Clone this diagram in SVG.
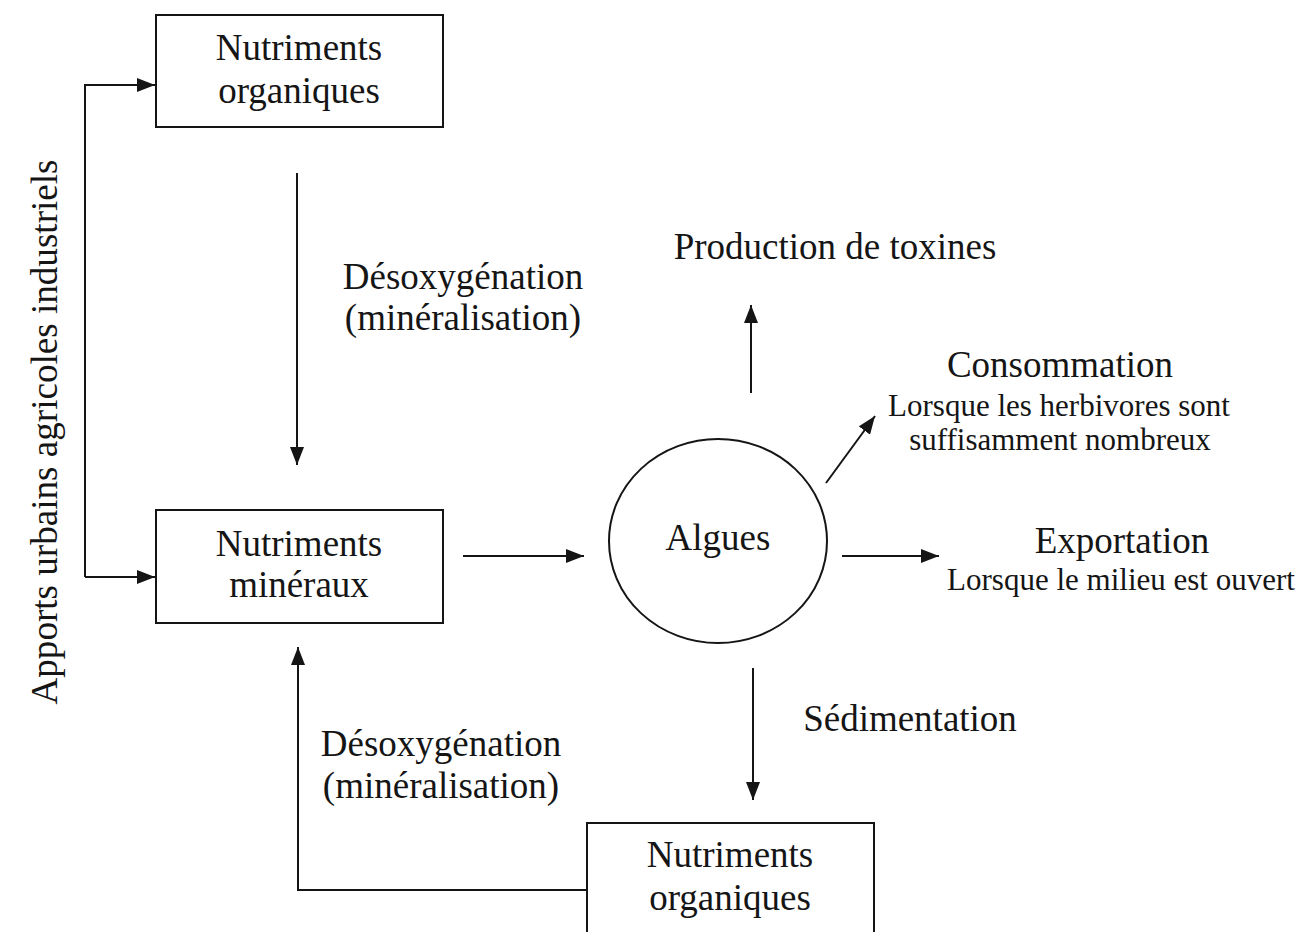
<svg xmlns="http://www.w3.org/2000/svg" width="1305" height="932" viewBox="0 0 1305 932">
<style>
  text { font-family: "Liberation Serif", "Times New Roman", serif; fill: #151515; }
  .t { font-size: 37px; text-anchor: middle; }
  .s { font-size: 31px; text-anchor: middle; }
  .box { fill: none; stroke: #151515; stroke-width: 2; }
  .c { fill: none; stroke: #151515; stroke-width: 2; marker-end: url(#ah); }
  .p { fill: none; stroke: #151515; stroke-width: 2; }
</style>
<defs>
  <marker id="ah" markerUnits="userSpaceOnUse" markerWidth="18" markerHeight="14" refX="18" refY="7" orient="auto">
    <path d="M0,0 L18,7 L0,14 z" fill="#151515"/>
  </marker>
</defs>
<rect width="1305" height="932" fill="#ffffff"/>

<g id="apports">
  <text font-size="38" text-anchor="middle" textLength="545" lengthAdjust="spacingAndGlyphs" transform="translate(57,432) rotate(-90)">Apports urbains agricoles industriels</text>
</g>

<g id="nutriments-organiques-haut">
  <rect class="box" x="156" y="15" width="287" height="112"/>
  <text class="t" x="299" y="60">Nutriments</text>
  <text class="t" x="299" y="103">organiques</text>
</g>

<g id="nutriments-mineraux">
  <rect class="box" x="156" y="510" width="287" height="113"/>
  <text class="t" x="299" y="556">Nutriments</text>
  <text class="t" x="299" y="597">minéraux</text>
</g>

<g id="algues">
  <ellipse class="box" cx="718" cy="541" rx="109" ry="102"/>
  <text class="t" x="718" y="550">Algues</text>
</g>

<g id="nutriments-organiques-bas">
  <rect class="box" x="587" y="823" width="287" height="120"/>
  <text class="t" x="730" y="867">Nutriments</text>
  <text class="t" x="730" y="910">organiques</text>
</g>

<g id="production-toxines">
  <text class="t" x="835" y="259">Production de toxines</text>
</g>

<g id="consommation">
  <text class="t" x="1060" y="377">Consommation</text>
  <text class="s" x="1059" y="416">Lorsque les herbivores sont</text>
  <text class="s" x="1060" y="450">suffisamment nombreux</text>
</g>

<g id="exportation">
  <text class="t" x="1122" y="553">Exportation</text>
  <text class="s" x="1121" y="590">Lorsque le milieu est ouvert</text>
</g>

<g id="labels">
  <text class="t" x="463" y="289">Désoxygénation</text>
  <text class="t" x="463" y="330">(minéralisation)</text>
  <text class="t" x="441" y="756">Désoxygénation</text>
  <text class="t" x="441" y="798">(minéralisation)</text>
  <text class="t" x="910" y="731">Sédimentation</text>
</g>

<g id="connectors">
  <path class="p" d="M155,85 H85 V577"/>
  <path class="c" d="M85,85 H155"/>
  <path class="c" d="M85,577 H155"/>
  <path class="c" d="M297,173 V465"/>
  <path class="c" d="M463,556 H584"/>
  <path class="c" d="M751,393 V305"/>
  <path class="c" d="M826,483 L875,416"/>
  <path class="c" d="M842,556 H939"/>
  <path class="c" d="M753,668 V800"/>
  <path class="c" d="M587,890 H298 V647"/>
</g>
</svg>
